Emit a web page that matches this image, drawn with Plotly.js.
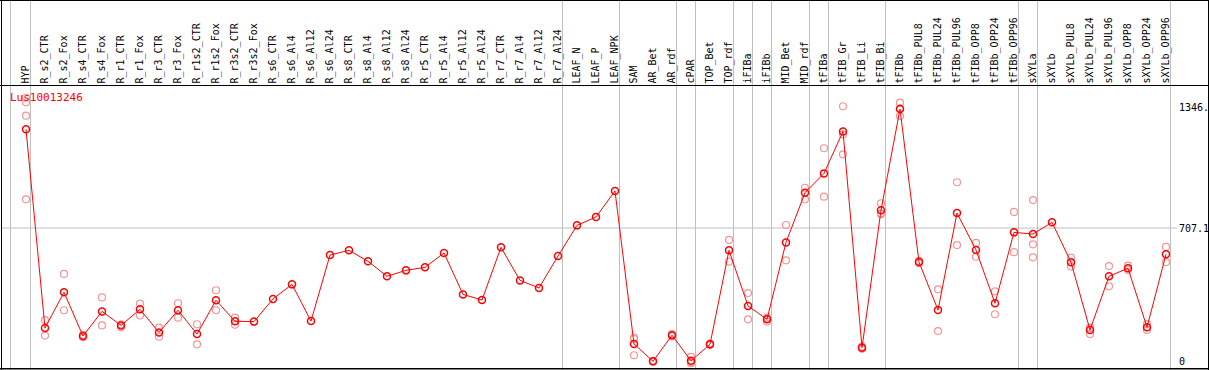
<!DOCTYPE html>
<html>
<head>
<meta charset="utf-8">
<script src="https://cdn.plot.ly/plotly-3.0.1.min.js"></script>
<style>
  html, body { margin: 0; padding: 0; background: #fff; }
  #chart { width: 1209px; height: 370px; }
</style>
</head>
<body>
<div id="chart"></div>
<script>
// ---- data ----
const chartTitle = "Lus10013246";
const categories = [
  "HYP","R_s2_CTR","R_s2_Fox","R_s4_CTR","R_s4_Fox","R_r1_CTR","R_r1_Fox","R_r3_CTR","R_r3_Fox",
  "R_r1s2_CTR","R_r1s2_Fox","R_r3s2_CTR","R_r3s2_Fox","R_s6_CTR","R_s6_Al4","R_s6_Al12","R_s6_Al24",
  "R_s8_CTR","R_s8_Al4","R_s8_Al12","R_s8_Al24","R_r5_CTR","R_r5_Al4","R_r5_Al12","R_r5_Al24",
  "R_r7_CTR","R_r7_Al4","R_r7_Al12","R_r7_Al24","LEAF_N","LEAF_P","LEAF_NPK","SAM","AR_Bet","AR_rdf",
  "cPAR","TOP_Bet","TOP_rdf","iFIBa","iFIBb","MID_Bet","MID_rdf","tFIBa","tFIB_Gr","tFIB_Li","tFIB_Bi",
  "tFIBb","tFIBb_PUL8","tFIBb_PUL24","tFIBb_PUL96","tFIBb_OPP8","tFIBb_OPP24","tFIBb_OPP96",
  "sXYLa","sXYLb","sXYLb_PUL8","sXYLb_PUL24","sXYLb_PUL96","sXYLb_OPP8","sXYLb_OPP24","sXYLb_OPP96"
];
const meanValues = [
  1229,178,367,136,266,192,277,155,272,
  146,325,214,212,332,409,215,564,
  589,531,452,483,499,575,356,326,
  605,430,390,559,721,765,903,94,2,140,
  5,92,589,295,224,631,894,996,1218,74,801,
  1336,527,273,786,591,309,684,
  675,737,526,168,452,494,182,568
];
const rep1 = [
  1396,220,464,141,340,198,307,180,309,
  198,378,233,null,null,null,null,null,
  null,null,null,null,null,null,null,null,
  null,null,null,null,null,null,null,128,5,146,
  25,96,644,363,233,723,920,1129,1351,80,838,
  1370,533,383,949,628,372,792,
  855,null,550,180,506,508,199,607
];
const rep2 = [
  1372,138,272,129,192,182,245,132,233,
  92,272,196,null,null,null,null,null,
  null,null,null,null,null,null,null,null,
  null,null,null,null,null,null,null,120,0,134,
  -8,88,529,224,212,536,859,873,1202,68,785,
  1299,521,162,617,555,251,579,
  621,null,503,178,399,485,168,527
];
const rep3 = [
  1301,null,null,null,null,null,null,null,null,
  null,null,null,null,null,null,null,null,
  null,null,null,null,null,null,null,null,
  null,null,null,null,null,null,null,34,null,null,
  -2,null,null,null,226,null,null,null,1097,null,780,
  1340,null,null,null,null,null,null,
  552,null,null,146,null,null,null,null
];
const rep4 = [
  859,null,null,null,null,null,null,null,null,
  null,null,null,null,null,null,null,null,
  null,null,null,null,null,null,null,null,
  null,null,null,null,null,null,null,null,null,null,
  null,null,null,null,null,null,null,null,null,null,null,
  null,null,null,null,null,null,null,
  null,null,null,null,null,null,null,null
];
const yTickVals = [0, 707.1, 1346.2];
const yTickText = ["0", "707.1", "1346."];
// indices of categories after which a group separator is drawn
const groupEnds = [0, 28, 31, 34, 35, 37, 38, 39, 41, 42, 45, 52, 53];

// ---- geometry ----
const W = 1209, H = 370;
const plotRight = 1170;          // px
const x0px = 26, stepPx = 19;    // category 0 centre, spacing
const xRange = [-x0px / stepPx, (plotRight - x0px) / stepPx];
const topPx = 85.5, botPx = 368.5;
const zeroPx = 361.7, pxPerUnit = 0.18908;
const yRange = [(zeroPx - botPx) / pxPerUnit, (zeroPx - topPx) / pxPerUnit];
const px2paperX = p => p / W;
const px2paperY = p => 1 - p / H;

const grey = "#c0c0c0";
const pink = "rgb(240,150,150)";
const mono = "DejaVu Sans Mono, monospace";

// replicate points
const repX = [], repY = [];
[rep1, rep2, rep3, rep4].forEach(arr => arr.forEach((v, i) => {
  if (v !== null) { repX.push(categories[i]); repY.push(v); }
}));

const traces = [
  {
    type: "scatter", mode: "markers", x: repX, y: repY, hoverinfo: "skip",
    marker: { symbol: "circle-open", size: 7, color: pink, line: { color: pink, width: 1.2 } },
    showlegend: false, cliponaxis: false
  },
  {
    type: "scatter", mode: "lines+markers", x: categories, y: meanValues,
    line: { color: "#ff0000", width: 1 },
    marker: { symbol: "circle-open", size: 7, color: "#ff0000", line: { color: "#ff0000", width: 1.5 } },
    showlegend: false, cliponaxis: false
  }
];

const shapes = [];
// group separators (full height)
const sepXs = [-0.8158].concat(groupEnds.map(i => i + 0.2368));
sepXs.forEach(x => shapes.push({
  type: "line", xref: "x", yref: "paper", x0: x, x1: x, y0: 0, y1: 1,
  line: { color: grey, width: 1 }, layer: "below"
}));
shapes.push({
  type: "line", xref: "paper", yref: "paper", x0: px2paperX(plotRight + 0.5), x1: px2paperX(plotRight + 0.5),
  y0: 0, y1: 1, line: { color: grey, width: 1 }, layer: "below"
});
// middle horizontal grid line
shapes.push({
  type: "line", xref: "paper", yref: "y", x0: px2paperX(1), x1: px2paperX(1177),
  y0: yTickVals[1], y1: yTickVals[1], line: { color: grey, width: 1 }, layer: "below"
});
// black frame and header separator
const blk = { color: "#000", width: 1 };
shapes.push({ type: "line", xref: "paper", yref: "paper", x0: 0, x1: 1, y0: px2paperY(0.5), y1: px2paperY(0.5), line: blk });
shapes.push({ type: "line", xref: "paper", yref: "paper", x0: 0, x1: 1, y0: px2paperY(85.5), y1: px2paperY(85.5), line: blk });
shapes.push({ type: "line", xref: "paper", yref: "paper", x0: 0, x1: 1, y0: px2paperY(368.8), y1: px2paperY(368.8), line: { color: "#000", width: 1.6 } });
shapes.push({ type: "line", xref: "paper", yref: "paper", x0: px2paperX(1.5), x1: px2paperX(1.5), y0: 0, y1: 1, line: blk });
shapes.push({ type: "line", xref: "paper", yref: "paper", x0: px2paperX(1208.5), x1: px2paperX(1208.5), y0: 0, y1: 1, line: blk });

const layout = {
  width: W, height: H,
  margin: { l: 0, r: 0, t: 0, b: 0, pad: 0 },
  paper_bgcolor: "#fff", plot_bgcolor: "rgba(0,0,0,0)",
  showlegend: false,
  xaxis: {
    type: "category", categoryorder: "array", categoryarray: categories,
    range: xRange, autorange: false,
    domain: [0, px2paperX(plotRight)],
    side: "top", tickmode: "linear", tick0: 0, dtick: 1,
    tickangle: -90, ticks: "", showgrid: false, zeroline: false, showline: false,
    tickfont: { family: mono, size: 10, color: "#000" },
    ticklabelstandoff: 1, automargin: false, fixedrange: true
  },
  yaxis: {
    range: yRange, autorange: false,
    domain: [px2paperY(botPx), px2paperY(topPx)],
    side: "right", anchor: "x",
    tickmode: "array", tickvals: yTickVals, ticktext: yTickText,
    ticks: "", showgrid: false, zeroline: false, showline: false,
    tickfont: { family: mono, size: 10, color: "#000" },
    ticklabelstandoff: 8, automargin: false, fixedrange: true
  },
  shapes: shapes,
  annotations: [{
    text: chartTitle, xref: "paper", yref: "paper",
    x: px2paperX(9), y: px2paperY(97.3), xanchor: "left", yanchor: "middle",
    showarrow: false, borderpad: 0,
    font: { family: mono, size: 11, color: "#ff0000" }
  }]
};

Plotly.newPlot("chart", traces, layout, { staticPlot: true, displayModeBar: false });
</script>
</body>
</html>
